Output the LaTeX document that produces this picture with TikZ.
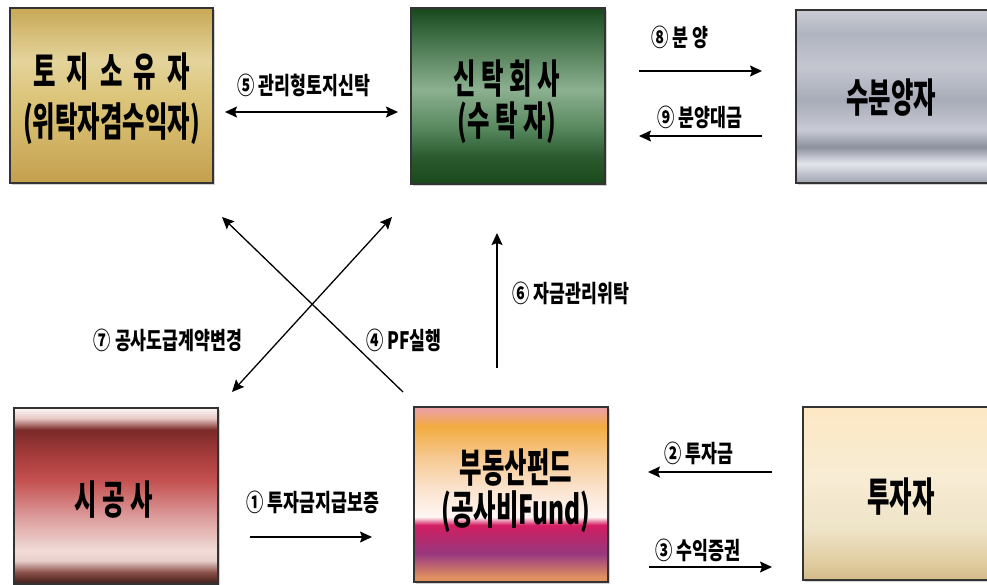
\documentclass[tikz,border=0pt]{standalone}
\usepackage{fontspec}
\newfontfamily\krbox[FakeStretch=0.61]{Noto Sans CJK KR}
\newfontfamily\krlab[FakeStretch=0.72]{Noto Sans CJK KR}
\usetikzlibrary{arrows.meta,shadows}

\definecolor{g1}{RGB}{200,170,88}
\definecolor{g2}{RGB}{228,212,156}
\definecolor{g3}{RGB}{220,198,124}
\definecolor{g4}{RGB}{212,184,106}
\definecolor{g5}{RGB}{196,160,80}
\pgfdeclareverticalshading{goldsh}{100bp}{color(0bp)=(g5); color(25.5bp)=(g5); color(40bp)=(g4); color(50bp)=(g3); color(60bp)=(g2); color(74.5bp)=(g1); color(100bp)=(g1)}

\definecolor{n1}{RGB}{26,74,30}
\definecolor{n2}{RGB}{58,106,64}
\definecolor{n3}{RGB}{140,176,144}
\definecolor{n4}{RGB}{90,138,96}
\definecolor{n5}{RGB}{42,90,46}
\definecolor{n6}{RGB}{26,74,28}
\pgfdeclareverticalshading{greensh}{100bp}{color(0bp)=(n6); color(25.2bp)=(n6); color(32.8bp)=(n5); color(41.3bp)=(n4); color(51.8bp)=(n3); color(67.9bp)=(n2); color(74.5bp)=(n1); color(100bp)=(n1)}

\definecolor{s1}{RGB}{200,202,210}
\definecolor{s2}{RGB}{176,180,192}
\definecolor{s3}{RGB}{196,199,208}
\definecolor{s4}{RGB}{168,172,184}
\definecolor{s5}{RGB}{200,202,212}
\definecolor{s6}{RGB}{140,144,158}
\definecolor{s7}{RGB}{228,230,236}
\definecolor{s8}{RGB}{168,172,184}
\pgfdeclareverticalshading{silversh}{100bp}{color(0bp)=(s8); color(25.8bp)=(s8); color(30.6bp)=(s7); color(35.4bp)=(s6); color(40.3bp)=(s5); color(48.9bp)=(s4); color(58.6bp)=(s3); color(68.2bp)=(s2); color(74.5bp)=(s1); color(100bp)=(s1)}

\definecolor{r1}{RGB}{248,240,238}
\definecolor{r2}{RGB}{232,200,196}
\definecolor{r3}{RGB}{122,42,40}
\definecolor{r4}{RGB}{168,60,60}
\definecolor{r5}{RGB}{196,80,80}
\definecolor{r6}{RGB}{220,156,156}
\definecolor{r7}{RGB}{240,220,216}
\definecolor{r8}{RGB}{232,208,204}
\definecolor{r9}{RGB}{138,80,72}
\definecolor{r10}{RGB}{74,36,32}
\pgfdeclareverticalshading{redsh}{100bp}{color(0bp)=(r10); color(25.5bp)=(r10); color(28.3bp)=(r9); color(31.7bp)=(r8); color(34.5bp)=(r7); color(44bp)=(r6); color(54.5bp)=(r5); color(61.2bp)=(r4); color(68.8bp)=(r3); color(72.1bp)=(r2); color(74.5bp)=(r1); color(100bp)=(r1)}

\definecolor{f1}{RGB}{237,160,160}
\definecolor{f2}{RGB}{242,172,64}
\definecolor{f3}{RGB}{246,200,144}
\definecolor{f4}{RGB}{251,228,208}
\definecolor{f5}{RGB}{255,246,244}
\definecolor{f6}{RGB}{212,30,100}
\definecolor{f7}{RGB}{184,40,108}
\definecolor{f8}{RGB}{152,56,128}
\definecolor{f9}{RGB}{224,144,96}
\pgfdeclareverticalshading{fundsh}{100bp}{color(0bp)=(f9); color(26.4bp)=(f9); color(33.1bp)=(f8); color(37.9bp)=(f7); color(41.3bp)=(f6); color(43.6bp)=(f5); color(51.3bp)=(f4); color(60.8bp)=(f3); color(69.5bp)=(f2); color(74.2bp)=(f1); color(100bp)=(f1)}

\definecolor{c1}{RGB}{252,232,196}
\definecolor{c2}{RGB}{248,236,212}
\definecolor{c3}{RGB}{238,228,200}
\definecolor{c4}{RGB}{224,204,160}
\definecolor{c5}{RGB}{212,188,140}
\pgfdeclareverticalshading{creamsh}{100bp}{color(0bp)=(c5); color(25.5bp)=(c5); color(30bp)=(c4); color(40bp)=(c3); color(55bp)=(c2); color(74.5bp)=(c1); color(100bp)=(c1)}

\tikzset{
  box/.style={draw=black!80, line width=1.2pt, rectangle, inner sep=0pt,
    drop shadow={shadow xshift=2pt, shadow yshift=-2pt, opacity=0.35}},
  boxtext/.style={font=\krbox\bfseries\fontsize{40}{48}\selectfont, align=center, text=black, inner sep=0pt},
  lab/.style={font=\krlab\bfseries\fontsize{24}{28}\selectfont, text=black, inner sep=0pt},
  conn/.style={line width=1.3pt, black},
  hd/.style={-{Stealth[length=12pt,width=11pt,inset=2pt]}},
  hdd/.style={{Stealth[length=12pt,width=11pt,inset=2pt]}-{Stealth[length=12pt,width=11pt,inset=2pt]}}
}

\begin{document}
\begin{tikzpicture}[x=1pt,y=-1pt]
\useasboundingbox (0,0) rectangle (987,584);
\fill[white] (0,0) rectangle (987,584);
\clip (0,0) rectangle (987,584);

% boxes
\node[box, shading=goldsh, minimum width=203pt, minimum height=175pt] (own) at (111.5,95.5) {};
\node[boxtext, font=\krbox\bfseries\fontsize{40}{50}\selectfont] (ownt) at (111.5,99) {토~~지~~소~~유~~자\\(위탁자겸수익자)};

\node[box, shading=greensh, minimum width=194pt, minimum height=176pt] (trust) at (508,96) {};
\node[boxtext, font=\krbox\bfseries\fontsize{40}{42}\selectfont] (trustt) at (507,102) {신~탁~회~사\\(수~탁~자)};

\node[box, shading=silversh, minimum width=210pt, minimum height=173pt] (buyer) at (901,96.5) {};
\node[boxtext] (buyert) at (891,98) {수분양자};

\node[box, shading=redsh, minimum width=204pt, minimum height=176pt] (builder) at (116,496) {};
\node[boxtext] (buildert) at (114,500) {시~공~사};

\node[box, shading=fundsh, minimum width=194pt, minimum height=175pt] (fund) at (511,494.5) {};
\node[boxtext, font=\krbox\bfseries\fontsize{40}{42}\selectfont] (fundt) at (516,491) {부동산펀드\\(공사비Fund)};

\node[box, shading=creamsh, minimum width=197pt, minimum height=173pt] (inv) at (901.5,493.5) {};
\node[boxtext] (invt) at (901,497) {투자자};

% connector end points
\coordinate (a5l) at (225,112);  \coordinate (a5r) at (398,112);
\coordinate (a8l) at (639,71);   \coordinate (a8r) at (762,71);
\coordinate (a9l) at (639,136);  \coordinate (a9r) at (762,136);
\coordinate (xa1) at (403,392);  \coordinate (xa2) at (222,217);
\coordinate (xb1) at (232,392);  \coordinate (xb2) at (392,217);
\coordinate (a6b) at (497,368);  \coordinate (a6t) at (497,233);
\coordinate (a1l) at (250,537);  \coordinate (a1r) at (372,537);
\coordinate (a2l) at (648,472);  \coordinate (a2r) at (772,472);
\coordinate (a3l) at (649,567);  \coordinate (a3r) at (772,567);

% connectors
\draw[conn, hdd] (a5l) -- (a5r);
\draw[conn, hd] (a8l) -- (a8r);
\draw[conn, hd] (a9r) -- (a9l);
\draw[conn, hd] (xa1) -- (xa2);
\draw[conn, hdd] (xb1) -- (xb2);
\draw[conn, hd] (a6b) -- (a6t);
\draw[conn, hd] (a1l) -- (a1r);
\draw[conn, hd] (a2r) -- (a2l);
\draw[conn, hd] (a3l) -- (a3r);

% labels
\node[lab] (l5) at (304,85) {⑤ 관리형토지신탁};
\node[lab] (l8) at (680,37) {⑧ 분~양};
\node[lab] (l9) at (700,117) {⑨ 분양대금};
\node[lab] (l7) at (168,340) {⑦ 공사도급계약변경};
\node[lab] (l4) at (404,340) {④ PF실행};
\node[lab] (l6) at (571,293) {⑥ 자금관리위탁};
\node[lab] (l1) at (313,502) {① 투자금지급보증};
\node[lab] (l2) at (699,453) {② 투자금};
\node[lab] (l3) at (698,550) {③ 수익증권};
\end{tikzpicture}
\end{document}
